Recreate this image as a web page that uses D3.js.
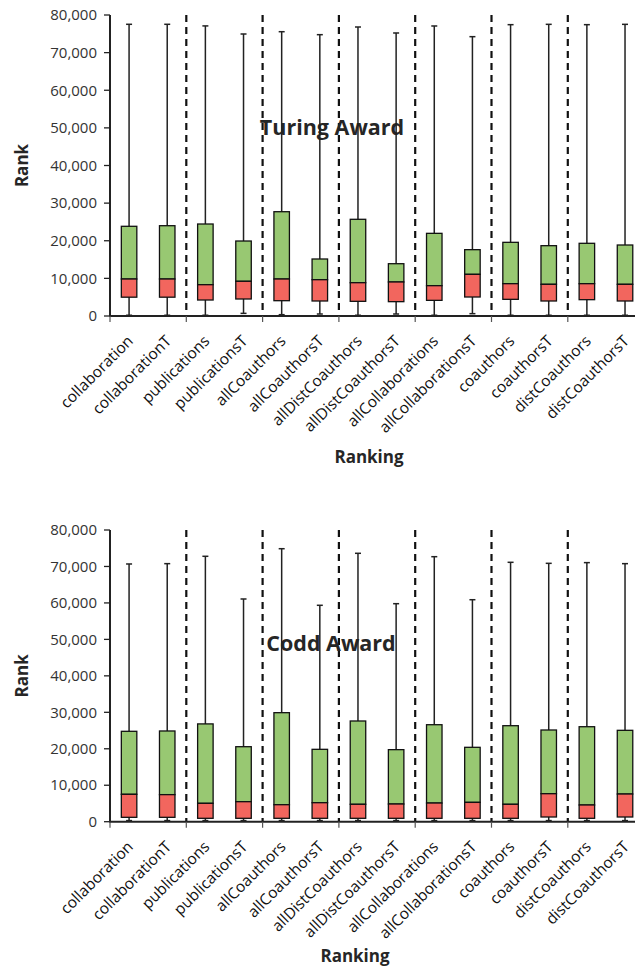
<!DOCTYPE html>
<html><head><meta charset="utf-8">
<script src="https://cdn.jsdelivr.net/npm/d3@7"></script>
<style>body{margin:0;background:#fff}text{font-family:"Open Sans",sans-serif}</style>
</head><body><svg id="c" width="635" height="972"></svg>
<script>
const categories = ["collaboration","collaborationT","publications","publicationsT","allCoauthors","allCoauthorsT","allDistCoauthors","allDistCoauthorsT","allCollaborations","allCollaborationsT","coauthors","coauthorsT","distCoauthors","distCoauthorsT"];
const yTicks = [0,10000,20000,30000,40000,50000,60000,70000,80000];

const turingMin    = [200,200,200,700,350,530,200,530,200,620,200,200,200,200];
const turingQ1     = [5000,5000,4250,4520,4070,3990,3900,3810,4160,5050,4430,3990,4340,3990];
const turingMedian = [9830,9830,8320,9220,9830,9650,8850,9040,8060,11070,8590,8420,8590,8420];
const turingQ3     = [23840,24000,24450,19930,27720,15150,25700,13900,21970,17630,19580,18690,19320,18870];
const turingMax    = [77530,77530,77100,74950,75560,74770,76810,75220,77080,74240,77430,77520,77430,77520];

const coddMin    = [300,300,300,300,300,300,300,300,300,300,300,300,300,300];
const coddQ1     = [1200,1200,930,930,930,930,930,930,930,930,930,1290,930,1290];
const coddMedian = [7510,7420,5040,5490,4660,5210,4770,4850,5120,5300,4770,7680,4580,7590];
const coddQ3     = [24790,24880,26820,20570,29900,19850,27620,19760,26600,20400,26330,25150,26050,25060];
const coddMax    = [70680,70770,72790,61080,74870,59350,73610,59790,72680,60880,71140,70860,71050,70770];

const svg = d3.select("#c");
const left = 110, step = 38.15;
const x = d3.scaleBand().domain(categories).range([left, left + step*categories.length]).paddingInner(0).paddingOuter(0);
const boxW = 15.5;
const groupEdges = d3.range(0, categories.length/2 + 1).map(i => left + i*2*step);
const fmt = d3.format(",");

function panel(cfg, mins, q1, med, q3, maxs){
  const y = d3.scaleLinear().domain([0,80000]).range([cfg.y0, cfg.y1]);
  const g = svg.append("g");
  g.selectAll("line.sep").data(groupEdges.slice(1)).join("line")
    .attr("x1", d=>d).attr("x2", d=>d).attr("y1", y(80000)).attr("y2", y(0))
    .attr("stroke","#111").attr("stroke-width",2.2).attr("stroke-dasharray","7,5");
  g.append("text").attr("x", cfg.titleX).attr("y", cfg.titleY).attr("text-anchor","middle")
    .attr("font-weight","bold").attr("font-size",21.5).attr("fill","#262626").text(cfg.title);
  const data = categories.map((c,i)=>({c, mn:mins[i], q1:q1[i], md:med[i], q3:q3[i], mx:maxs[i]}));
  const bx = d => x(d.c) + x.bandwidth()/2;
  g.selectAll("line.wh").data(data).join("line")
    .attr("x1", bx).attr("x2", bx).attr("y1", d=>y(d.mn)).attr("y2", d=>y(d.mx))
    .attr("stroke","#222").attr("stroke-width",1.5);
  g.selectAll("line.capt").data(data).join("line")
    .attr("x1", d=>bx(d)-3).attr("x2", d=>bx(d)+3).attr("y1", d=>y(d.mx)).attr("y2", d=>y(d.mx))
    .attr("stroke","#222").attr("stroke-width",1.5);
  g.selectAll("line.capb").data(data).join("line")
    .attr("x1", d=>bx(d)-3).attr("x2", d=>bx(d)+3).attr("y1", d=>y(d.mn)).attr("y2", d=>y(d.mn))
    .attr("stroke","#222").attr("stroke-width",1.5);
  g.selectAll("rect.up").data(data).join("rect")
    .attr("x", d=>bx(d)-boxW/2).attr("width", boxW)
    .attr("y", d=>y(d.q3)).attr("height", d=>y(d.md)-y(d.q3))
    .attr("fill","#98c872").attr("stroke","#111").attr("stroke-width",1.3);
  g.selectAll("rect.lo").data(data).join("rect")
    .attr("x", d=>bx(d)-boxW/2).attr("width", boxW)
    .attr("y", d=>y(d.md)).attr("height", d=>y(d.q1)-y(d.md))
    .attr("fill","#f2665e").attr("stroke","#111").attr("stroke-width",1.3);
  g.append("line").attr("x1",left).attr("x2",left).attr("y1",y(80000)).attr("y2",y(0)+1)
    .attr("stroke","#222").attr("stroke-width",2);
  g.selectAll("line.yt").data(yTicks).join("line")
    .attr("x1",left-6).attr("x2",left).attr("y1",d=>y(d)).attr("y2",d=>y(d))
    .attr("stroke","#222").attr("stroke-width",1.3);
  g.selectAll("text.yl").data(yTicks).join("text")
    .attr("x",left-13).attr("y",d=>y(d)).attr("dy","0.35em").attr("text-anchor","end")
    .attr("font-size",15).attr("fill","#333").text(d=>fmt(d));
  g.append("line").attr("x1",left).attr("x2",left+step*categories.length).attr("y1",y(0)).attr("y2",y(0))
    .attr("stroke","#222").attr("stroke-width",2);
  g.selectAll("line.xt").data(groupEdges).join("line")
    .attr("x1",d=>d).attr("x2",d=>d).attr("y1",y(0)).attr("y2",y(0)+6)
    .attr("stroke","#555").attr("stroke-width",1.2);
  g.selectAll("text.xl").data(categories).join("text")
    .attr("transform", d=>`translate(${x(d)+x.bandwidth()/2+5},${y(0)+26}) rotate(-45)`)
    .attr("text-anchor","end").attr("font-size",15.5).attr("fill","#111").text(d=>d);
  g.append("text").attr("transform",`translate(28,${(cfg.y0+cfg.y1)/2}) rotate(-90)`)
    .attr("text-anchor","middle").attr("font-weight","bold").attr("font-size",17).attr("fill","#262626").text("Rank");
  g.append("text").attr("x",cfg.rankingX).attr("y",cfg.rankingY).attr("text-anchor","middle")
    .attr("font-weight","bold").attr("font-size",17).attr("fill","#262626").text("Ranking");
}

panel({y0:316, y1:15, title:"Turing Award", titleX:332, titleY:135, rankingX:369, rankingY:463},
  turingMin, turingQ1, turingMedian, turingQ3, turingMax);
panel({y0:821.7, y1:530, title:"Codd Award", titleX:331, titleY:651, rankingX:355, rankingY:962},
  coddMin, coddQ1, coddMedian, coddQ3, coddMax);
</script></body></html>
